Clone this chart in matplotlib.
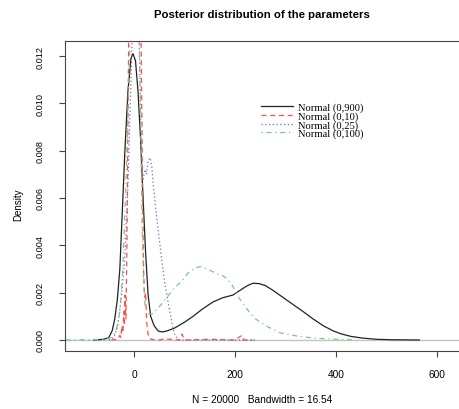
import matplotlib
matplotlib.use("Agg")
import matplotlib.pyplot as plt
import numpy as np

# density estimates (x, density)
x_900 = [-80, -60, -50, -43, -38, -33, -28, -23, -18, -12, -6, -2, 3, 8, 13, 18, 23, 28, 33, 40,
         48, 56, 65, 80, 100, 117, 135, 156, 175, 196, 210, 225, 236, 248, 260, 275, 295, 315,
         335, 354, 375, 395, 410, 430, 453, 480, 510, 565]
y_900 = [0, 0.00003, 0.0001, 0.0004, 0.0009, 0.0017, 0.003, 0.0055, 0.008, 0.0105, 0.0119, 0.0121,
         0.0118, 0.0105, 0.0085, 0.006, 0.0037, 0.0019, 0.001, 0.0006, 0.00038, 0.00034, 0.00038,
         0.0005, 0.00075, 0.001, 0.0013, 0.0016, 0.00178, 0.0019, 0.0021, 0.0023, 0.0024, 0.00238,
         0.0023, 0.0021, 0.0018, 0.0015, 0.0012, 0.0009, 0.0006, 0.00038, 0.00026, 0.00015,
         0.00008, 0.00003, 0.00001, 0]

x_10 = [-45, -32, -28, -26, -24, -22, -20, -19, -18, -16, -14, -12, -10, 0, 8, 12, 15, 17, 19, 21,
        23, 25, 27, 29, 35, 50, 60, 90, 95, 100, 150, 200, 214, 218, 235]
y_10 = [0, 0.00003, 0.0002, 0.0001, 0.0006, 0.0003, 0.0012, 0.0006, 0.0019, 0.0009, 0.004, 0.009,
        0.014, 0.016, 0.014, 0.016, 0.011, 0.006, 0.003, 0.0018, 0.002, 0.0008, 0.0004, 0.0001,
        0.00002, 0, 0.00005, 0, 0.00025, 0, 0.00003, 0, 0.0002, 0, 0]

x_25 = [-50, -40, -32, -25, -18, -12, -8, -4, 0, 8, 12, 15, 18, 22, 25, 28, 32, 35, 38, 41, 46, 51,
        56, 61, 66, 71, 76, 81, 90, 240]
y_25 = [0, 0.0001, 0.0006, 0.0018, 0.0035, 0.0065, 0.0095, 0.0125, 0.015, 0.015, 0.011, 0.0072,
        0.0068, 0.0072, 0.007, 0.0076, 0.0077, 0.0074, 0.0066, 0.006, 0.005, 0.0041, 0.0032, 0.0024,
        0.0018, 0.0012, 0.0006, 0.0002, 0, 0]

x_100 = [-145, -60, -45, -35, -28, -22, -17, -12, -8, -4, 5, 10, 13, 16, 19, 22, 28, 36, 50, 65, 80,
         95, 110, 122, 132, 145, 164, 175, 184, 195, 204, 214, 224, 240, 263, 290, 322, 360, 414, 440]
y_100 = [0, 0.00002, 0.0001, 0.0004, 0.0012, 0.003, 0.006, 0.0095, 0.0125, 0.014, 0.014, 0.013,
         0.0095, 0.005, 0.0025, 0.0014, 0.0011, 0.0011, 0.0014, 0.0018, 0.0022, 0.0025, 0.0029,
         0.00305, 0.0031, 0.003, 0.0028, 0.00272, 0.0026, 0.0023, 0.0019, 0.0016, 0.0013, 0.0009,
         0.00058, 0.0003, 0.00017, 0.00007, 0.00002, 0]

labels = ["Normal (0,900)", "Normal (0,10)", "Normal (0,25)", "Normal (0,100)"]
x_ticks = [0, 200, 400, 600]
y_ticks = [0.000, 0.002, 0.004, 0.006, 0.008, 0.010, 0.012]

plt.rcParams['font.family'] = ['Liberation Sans', 'DejaVu Sans']

fig = plt.figure(figsize=(4.6, 4.1), dpi=100)
ax = fig.add_axes([65 / 460, 58 / 410, 400 / 460, 310 / 410])

ax.axhline(0, color="#c4c4c4", lw=1.0, zorder=1)
ax.plot(x_900, y_900, color="#222222", lw=0.9, label=labels[0])
ax.plot(x_10, y_10, color="#ff4d4d", lw=0.9, ls=(0, (4, 3)), label=labels[1])
ax.plot(x_25, y_25, color="#6a6ad2", lw=0.9, ls=(0, (1, 2)), label=labels[2])
ax.plot(x_100, y_100, color="#7cc87c", lw=0.9, ls=(0, (1, 3, 4, 3)), label=labels[3])

ax.set_xlim(-136.6, 655.5)
ax.set_ylim(-0.000465, 0.012634)

ax.set_xticks(x_ticks)
ax.set_xticklabels([str(t) for t in x_ticks], fontsize=7.3)
ax.set_yticks(y_ticks)
ax.set_yticklabels(["%.3f" % t for t in y_ticks], fontsize=6.6, rotation=90, va="center")
ax.tick_params(axis="x", length=4, width=0.8, color="#444444", pad=9)
ax.tick_params(axis="y", length=4, width=0.8, color="#444444", pad=11)
for side in ["left", "top", "bottom", "right"]:
    ax.spines[side].set_color("#444444")
    ax.spines[side].set_linewidth(0.8)

leg = ax.legend(loc="upper left", bbox_to_anchor=(256 / 460, 1 - 98 / 410),
                bbox_transform=fig.transFigure, frameon=False,
                prop={"family": "Liberation Serif", "size": 7.6},
                handlelength=3.0, handletextpad=0.45, labelspacing=-0.08, borderpad=0)

fig.text(262 / 460, 1 - 15 / 410, "Posterior distribution of the parameters",
         ha="center", va="center", fontsize=8.2, fontweight="bold")
fig.text(262 / 460, 1 - 400 / 410, "N = 20000   Bandwidth = 16.54",
         ha="center", va="center", fontsize=7.3)
fig.text(18 / 460, 1 - 205 / 410, "Density", rotation=90, ha="center", va="center", fontsize=7)

fig.savefig("out.png", dpi=100)
